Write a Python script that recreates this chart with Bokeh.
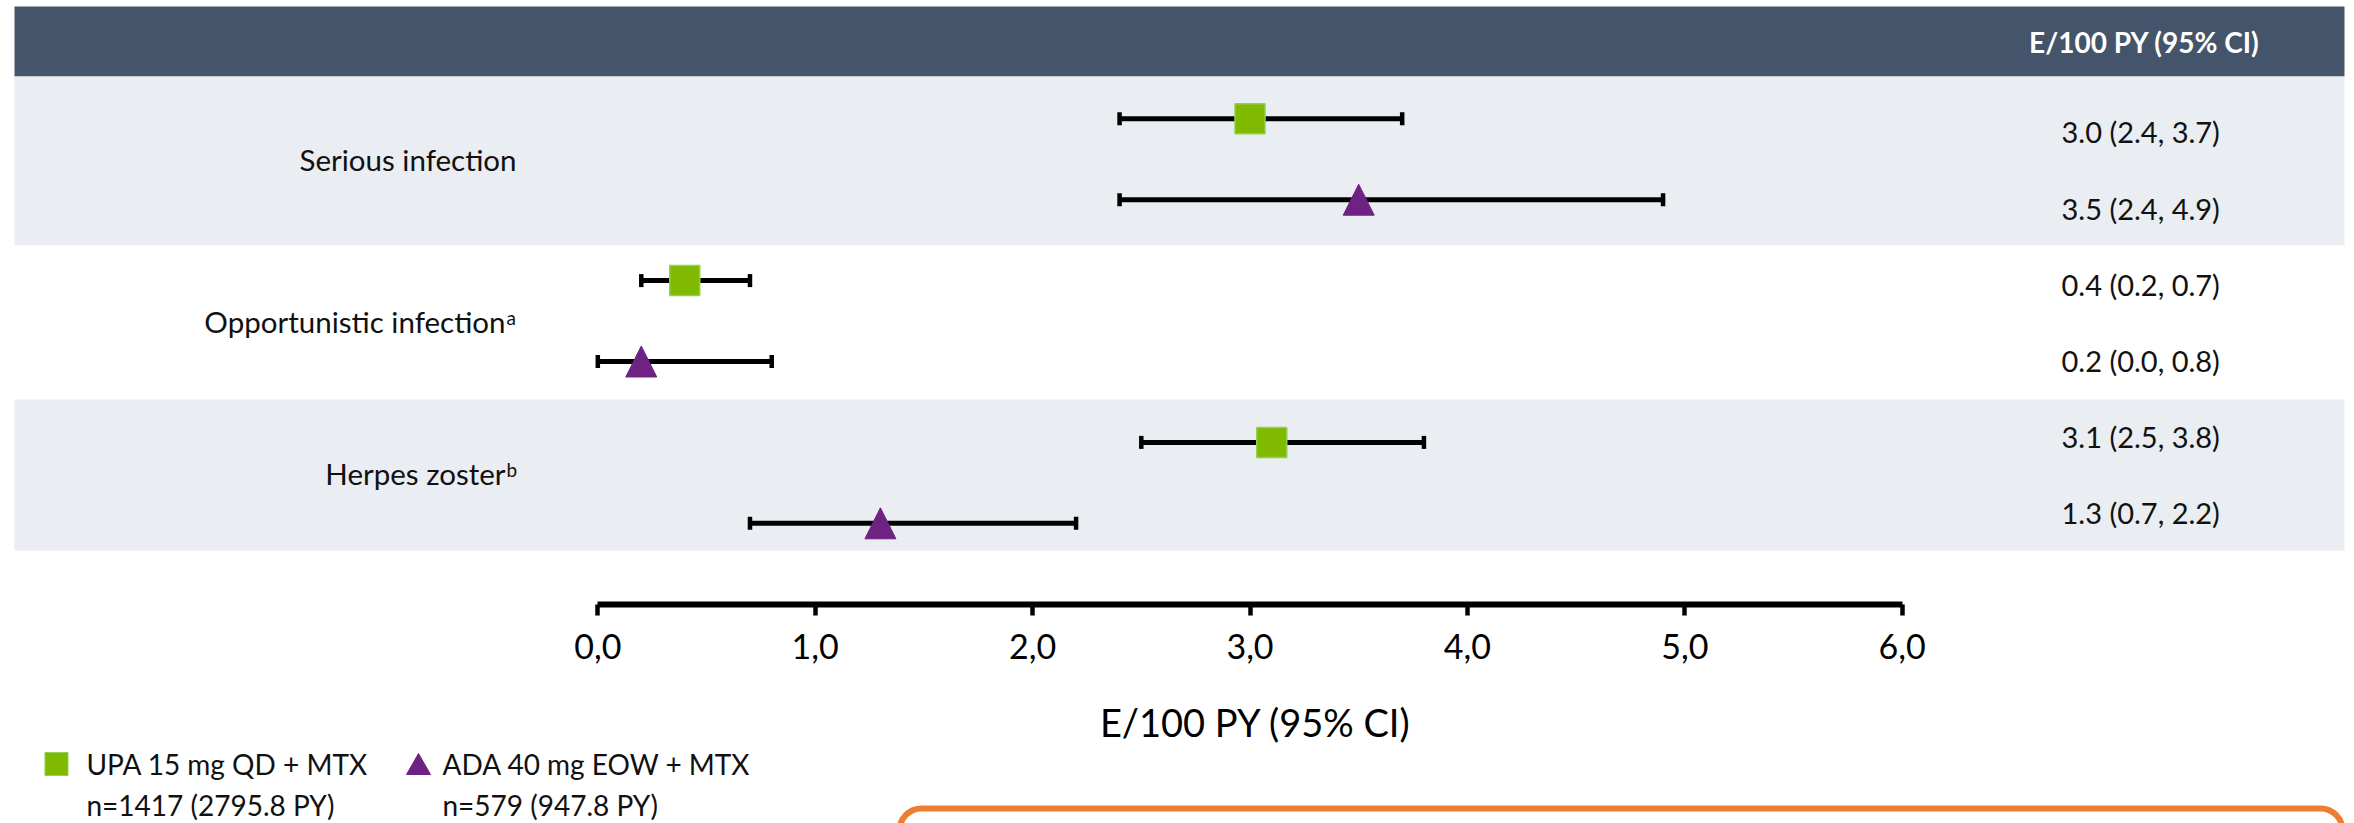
from bokeh.plotting import figure
from bokeh.models import ColumnDataSource, Range1d, FixedTicker, Whisker, TeeHead
from bokeh.layouts import column
from bokeh.embed import file_html
from bokeh.resources import INLINE
from bokeh.core.properties import value

# ---- data -------------------------------------------------------------
CATEGORIES = ["Serious infection", "Opportunistic infection", "Herpes zoster"]
FOOTNOTES = ["", "a", "b"]

UPA_LABEL = "UPA 15 mg QD + MTX"
UPA_N = "n=1417 (2795.8 PY)"
UPA_EST = [3.0, 0.4, 3.1]
UPA_LO = [2.4, 0.2, 2.5]
UPA_HI = [3.7, 0.7, 3.8]

ADA_LABEL = "ADA 40 mg EOW + MTX"
ADA_N = "n=579 (947.8 PY)"
ADA_EST = [3.5, 0.2, 1.3]
ADA_LO = [2.4, 0.0, 0.7]
ADA_HI = [4.9, 0.8, 2.2]

TICKS = [0, 1, 2, 3, 4, 5, 6]
TICK_LABELS = ["0,0", "1,0", "2,0", "3,0", "4,0", "5,0", "6,0"]
AXIS_TITLE = "E/100 PY (95% CI)"
COLUMN_TITLE = "E/100 PY (95% CI)"

# ---- styling / layout --------------------------------------------------
FONT = value("Lato")
W, H_TOP, H_ALL = 2354, 700, 823
FRAME_H = 604
X0_PX, PX_PER_UNIT = 597.3, 217.4

GREEN, GREEN_EDGE = "#7FBA00", "#92D050"
PURPLE = "#6E2382"
HEADER_BG = "#44546A"
BAND_BG = "#EAEDF2"
TEXT = "#111111"
ORANGE = "#ED7D31"

HEADER_TOP, HEADER_BOTTOM = 6, 76
BAND_EDGES = [76, 245, 399, 550]
BAND_LEFT_PX, BAND_RIGHT_PX = 14, 2344
ROW0_Y, ROW_STEP = 118.3, 80.9
VAL_Y0, VAL_STEP = 143.0, 76.2
LABEL_RIGHT_PX = 516
VALUE_LEFT_PX = 2061

LABEL_SIZE, VALUE_SIZE, LEGEND_SIZE = 29.5, 29.0, 28.0
SHIFT = 0.4  # baseline correction for text glyphs, in em


def px2x(px):
    return (px - X0_PX) / PX_PER_UNIT


def ty(baseline, size):
    return baseline - SHIFT * size


# rows: for each category, UPA first then ADA
n_cat = len(CATEGORIES)
upa_y = [ROW0_Y + ROW_STEP * (2 * i) for i in range(n_cat)]
ada_y = [ROW0_Y + ROW_STEP * (2 * i + 1) for i in range(n_cat)]

p = figure(width=W, height=H_TOP,
           x_range=Range1d(px2x(0), px2x(W)), y_range=Range1d(FRAME_H, 0),
           y_axis_type=None, toolbar_location=None, output_backend="svg",
           min_border_left=0, min_border_right=0, min_border_top=0,
           min_border_bottom=H_TOP - FRAME_H)
p.outline_line_color = None
p.xgrid.visible = False
p.ygrid.visible = False
p.background_fill_color = "white"
p.border_fill_color = "white"

# header strip
p.quad(left=[px2x(BAND_LEFT_PX)], right=[px2x(BAND_RIGHT_PX)],
       top=[HEADER_TOP], bottom=[HEADER_BOTTOM],
       fill_color=HEADER_BG, line_color=None, level="image")
p.text(x=[px2x(2144)], y=[ty(51, 28) + 2], text=[COLUMN_TITLE], text_color="white",
       text_font=FONT, text_font_size="28px", text_font_style="bold",
       text_align="center", text_baseline="alphabetic")

# alternating category bands
band_tops = [BAND_EDGES[i] for i in range(n_cat) if i % 2 == 0]
band_bottoms = [BAND_EDGES[i + 1] for i in range(n_cat) if i % 2 == 0]
p.quad(left=px2x(BAND_LEFT_PX), right=px2x(BAND_RIGHT_PX),
       top=band_tops, bottom=band_bottoms,
       fill_color=BAND_BG, line_color=None, level="image")

# category labels (right aligned, optional superscript)
for i, (name, note) in enumerate(zip(CATEGORIES, FOOTNOTES)):
    centre = (BAND_EDGES[i] + BAND_EDGES[i + 1]) / 2
    base = centre + 10.5
    right = LABEL_RIGHT_PX - (11 if note else 0)
    p.text(x=[px2x(right)], y=[ty(base, LABEL_SIZE)], text=[name], text_color=TEXT,
           text_font=FONT, text_font_size=f"{LABEL_SIZE}px",
           text_align="right", text_baseline="alphabetic")
    if note:
        p.text(x=[px2x(right + 1)], y=[ty(base - 8, 19)], text=[note], text_color=TEXT,
               text_font=FONT, text_font_size="19px",
               text_align="left", text_baseline="alphabetic")

# confidence intervals
ci_src = ColumnDataSource(dict(
    base=upa_y + ada_y,
    lower=UPA_LO + ADA_LO,
    upper=UPA_HI + ADA_HI,
))
whisk = Whisker(source=ci_src, base="base", lower="lower", upper="upper",
                dimension="width", line_color="black", line_width=5,
                lower_head=TeeHead(size=13, line_width=4.5, line_color="black"),
                upper_head=TeeHead(size=13, line_width=4.5, line_color="black"),
                level="underlay")
p.add_layout(whisk)

# point estimates
p.scatter(x=UPA_EST, y=upa_y, marker="square", size=30,
          fill_color=GREEN, line_color=GREEN_EDGE, line_width=1.5)
hw = 15.5 / PX_PER_UNIT
hh = 15.5
p.patches(xs=[[v - hw, v + hw, v] for v in ADA_EST],
          ys=[[y + hh, y + hh, y - hh] for y in ada_y],
          fill_color=PURPLE, line_color=PURPLE, line_width=1)

# table column of estimates
val_text = []
for e_u, l_u, h_u, e_a, l_a, h_a in zip(UPA_EST, UPA_LO, UPA_HI, ADA_EST, ADA_LO, ADA_HI):
    val_text.append(f"{e_u:.1f} ({l_u:.1f}, {h_u:.1f})")
    val_text.append(f"{e_a:.1f} ({l_a:.1f}, {h_a:.1f})")
val_y = [ty(VAL_Y0 + VAL_STEP * k, VALUE_SIZE) for k in range(len(val_text))]
p.text(x=[px2x(VALUE_LEFT_PX)] * len(val_text), y=val_y, text=val_text,
       text_color=TEXT, text_font=FONT, text_font_size=f"{VALUE_SIZE}px",
       text_align="left", text_baseline="alphabetic")

# x axis
ax = p.xaxis[0]
ax.ticker = FixedTicker(ticks=TICKS)
ax.major_label_overrides = {t: lab for t, lab in zip(TICKS, TICK_LABELS)}
ax.bounds = (TICKS[0], TICKS[-1])
ax.axis_line_color = "black"
ax.axis_line_width = 6
ax.major_tick_line_color = "black"
ax.major_tick_line_width = 4.5
ax.major_tick_in = 0
ax.major_tick_out = 11
ax.minor_tick_line_color = None
ax.major_label_text_font = "Lato"
ax.major_label_text_font_size = "34px"
ax.major_label_text_color = "black"
ax.major_label_standoff = 18

# ---- axis title, legend strip and callout box ---------------------------
q = figure(width=W, height=H_ALL - H_TOP,
           x_range=Range1d(0, W), y_range=Range1d(H_ALL, H_TOP),
           x_axis_type=None, y_axis_type=None, toolbar_location=None,
           output_backend="svg", min_border=0)
q.outline_line_color = None
q.xgrid.visible = False
q.ygrid.visible = False
q.background_fill_color = "white"
q.border_fill_color = "white"

q.text(x=[1255], y=[ty(737, 38)], text=[AXIS_TITLE], text_color="black",
       text_font=FONT, text_font_size="38px",
       text_align="center", text_baseline="alphabetic")

q.scatter(x=[56], y=[763.5], marker="square", size=23,
          fill_color=GREEN, line_color=GREEN_EDGE, line_width=1)
q.patches(xs=[[406, 430, 418]], ys=[[774, 774, 753]],
          fill_color=PURPLE, line_color=PURPLE)
q.text(x=[86, 86, 442, 442],
       y=[ty(775, LEGEND_SIZE), ty(816, LEGEND_SIZE), ty(775, LEGEND_SIZE), ty(816, LEGEND_SIZE)],
       text=[UPA_LABEL, UPA_N, ADA_LABEL, ADA_N],
       text_color=TEXT, text_font=FONT, text_font_size=f"{LEGEND_SIZE}px",
       text_align="left", text_baseline="alphabetic")

q.quad(left=[899], right=[2342], top=[808], bottom=[900],
       fill_color=None, line_color=ORANGE, line_width=6, border_radius=22)

layout = column(p, q, spacing=0)
open("out.html", "w").write(file_html(layout, INLINE))
